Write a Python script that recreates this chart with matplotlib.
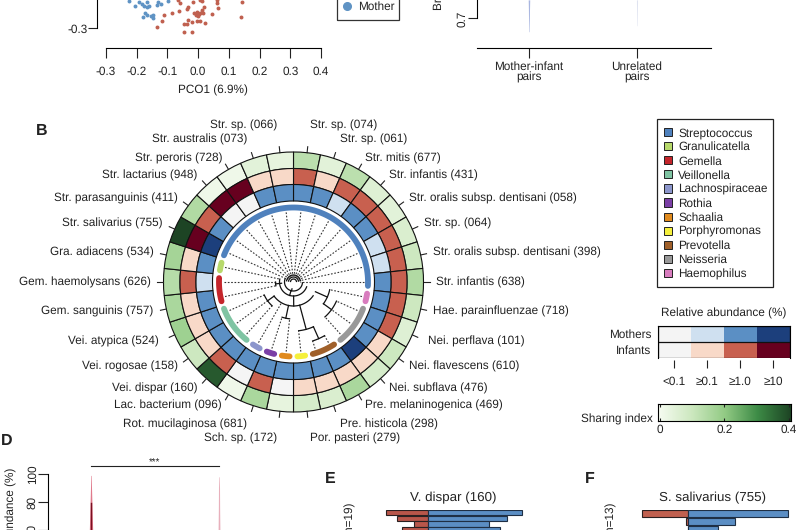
import numpy as np
import matplotlib
matplotlib.use('Agg')
import matplotlib.pyplot as plt
from matplotlib.colors import LinearSegmentedColormap, ListedColormap
from matplotlib.lines import Line2D
from matplotlib.patches import Patch, Rectangle

plt.rcParams['font.family'] = ['Liberation Sans', 'DejaVu Sans']
plt.rcParams['axes.unicode_minus'] = False
plt.rcParams['font.size'] = 8.5
plt.rcParams['text.hinting'] = 'none'
plt.rcParams['axes.linewidth'] = 0.8
plt.rcParams['xtick.major.width'] = 0.8
plt.rcParams['ytick.major.width'] = 0.8
plt.rcParams['text.color'] = '#222222'
plt.rcParams['xtick.color'] = '#222222'
plt.rcParams['ytick.color'] = '#222222'

W, H = 800, 530
DARK = '#222222'
RED = '#c0604f'
BLUE = '#5f93c4'

# panel A, PCoA points (visible part only)
mother_x = [-0.224, -0.206, -0.191, -0.184, -0.176, -0.168, -0.159, -0.173, -0.168, -0.178,
            -0.155, -0.148, -0.148, -0.130, -0.135, -0.122, -0.097, -0.168]
mother_y = [-0.211, -0.228, -0.214, -0.222, -0.228, -0.233, -0.228, -0.250, -0.258, -0.265,
            -0.261, -0.258, -0.269, -0.214, -0.224, -0.222, -0.211, -0.214]
infant_x = [-0.135, -0.119, -0.110, -0.084, -0.061, -0.059, -0.064, -0.032, -0.037, -0.016,
            0.006, -0.013, -0.005, 0.004, 0.012, 0.019, 0.006, 0.001, -0.007, 0.017,
            0.044, 0.060, 0.066, 0.142, 0.140, -0.046, -0.037, -0.032, -0.021, -0.005,
            0.006, 0.022, -0.046, -0.019, 0.012, 0.060]
infant_y = [-0.298, -0.277, -0.258, -0.252, -0.244, -0.220, -0.209, -0.231, -0.239, -0.214,
            -0.209, -0.250, -0.247, -0.254, -0.241, -0.231, -0.250, -0.261, -0.258, -0.252,
            -0.254, -0.220, -0.236, -0.214, -0.265, -0.287, -0.287, -0.274, -0.279, -0.276,
            -0.276, -0.283, -0.312, -0.313, -0.211, -0.209]
pco_ticks = [-0.3, -0.2, -0.1, 0.0, 0.1, 0.2, 0.3, 0.4]

# panel B top, tails of the two violins
bray_y = [0.678, 0.69, 0.70, 0.715, 0.731]
bray_pairs_w = [0.002, 0.003, 0.004, 0.005, 0.007]
bray_unrel_y = [0.688, 0.70, 0.715, 0.731]
bray_unrel_w = [0.002, 0.003, 0.004, 0.005]

# circular plot, clockwise from the top
species = ['Str. sp. (074)', 'Str. sp. (061)', 'Str. mitis (677)', 'Str. infantis (431)',
           'Str. oralis subsp. dentisani (058)', 'Str. sp. (064)',
           'Str. oralis subsp. dentisani (398)', 'Str. infantis (638)',
           'Hae. parainfluenzae (718)', 'Nei. perflava (101)', 'Nei. flavescens (610)',
           'Nei. subflava (476)', 'Pre. melaninogenica (469)', 'Pre. histicola (298)',
           'Por. pasteri (279)', 'Sch. sp. (172)', 'Rot. mucilaginosa (681)',
           'Lac. bacterium (096)', 'Vei. dispar (160)', 'Vei. rogosae (158)',
           'Vei. atypica (524)', 'Gem. sanguinis (757)', 'Gem. haemolysans (626)',
           'Gra. adiacens (534)', 'Str. salivarius (755)', 'Str. parasanguinis (411)',
           'Str. lactarius (948)', 'Str. peroris (728)', 'Str. australis (073)',
           'Str. sp. (066)']
mother_level = [2, 2, 1, 2, 2, 1, 1, 2, 2, 2, 2, 3, 2, 2, 2,
                2, 2, 2, 2, 2, 2, 2, 1, 2, 3, 2, 0, 0, 2, 2]
infant_level = [2, 1, 2, 2, 2, 2, 2, 2, 2, 2, 1, 1, 1, 1, 1,
                0, 2, 0, 2, 1, 1, 1, 2, 1, 3, 2, 3, 3, 1, 1]
sharing = [.13, .05, .13, .06, .05, .07, .10, .15, .10, .06, .10, .08, .16, .07, .08,
           .04, .16, .02, .37, .10, .18, .16, .14, .17, .40, .15, .02, .02, .05, .04]
genera = ['Streptococcus', 'Granulicatella', 'Gemella', 'Veillonella', 'Lachnospiraceae',
          'Rothia', 'Schaalia', 'Porphyromonas', 'Prevotella', 'Neisseria', 'Haemophilus']
genus_colors = ['#4f81bd', '#b7d96b', '#c4252b', '#7fc4a3', '#8c96cc', '#7b3fa6',
                '#e08a1e', '#f5f03c', '#a0602a', '#999999', '#d87cbe']
# first and last sector of each genus on the ring
genus_first = [24, 23, 21, 18, 17, 16, 15, 14, 12, 9, 8]
genus_last = [37, 23, 22, 20, 17, 16, 15, 14, 13, 11, 8]
# radius where each dotted leaf line stops
leaf_r = [6, 6, 6, 6, 6, 6, 6, 6, 37, 47, 47, 47, 62, 62, 49,
          37, 37, 24, 32, 32, 32, 18, 18, 14, 6, 6, 6, 6, 6, 6]
# tree arcs: start angle, end angle, radius, radius of the stem going inward
tree_arcs = [(264, 264, 18, 12), (258, 270, 18, 18), (222, 246, 32, 24), (186, 198, 37, 24),
             (174, 156, 49, 24), (150, 162, 62, 49), (114, 138, 47, 37), (102, 126, 37, 24),
             (125, 234, 24, 14), (110, 282, 14, 9), (95, 290, 9, 7)]
core_arcs_r = [3, 5, 7]

level_blues = ['#f4f4f4', '#cfe0f0', '#5b8fc4', '#1c3f7c']
level_reds = ['#f5f5f5', '#f8d9c8', '#c8604f', '#67001f']
level_labels = ['<0.1', '≥0.1', '≥1.0', '≥10']
greens = LinearSegmentedColormap.from_list('sharing', ['#f7fcf2', '#cde8c0', '#93cb85', '#3d8b46', '#1d4424'])

# panel D, violin outlines
abund_y = [60, 70, 80, 90, 99]
abund_mother_w = [0.013, 0.010, 0.007, 0.004, 0.002]
abund_core_y = [60, 79]
abund_unrel_y = [60, 75, 90, 98]
abund_unrel_w = [0.007, 0.005, 0.004, 0.002]

# panels E and F, paired bars
dispar_left = [-42, -31, -14, -26]
dispar_right = [94, 79, 61, 72]
saliv_left = [-46, -2, 0]
saliv_right = [100, 47, 29.5]


def px_axes(x0, y0, x1, y1, **kw):
    return fig.add_axes([x0 / W, 1 - y1 / H, (x1 - x0) / W, (y1 - y0) / H], **kw)


def label(x, y, s, **kw):
    fig.text(x / W, 1 - y / H, s, **kw)


def box(x0, y0, x1, y1, color):
    fig.add_artist(Rectangle((x0 / W, 1 - y1 / H), (x1 - x0) / W, (y1 - y0) / H, fill=False,
                             ec=color, lw=0.9, transform=fig.transFigure))


fig = plt.figure(figsize=(8, 5.3), dpi=100)

# A
ax = px_axes(106, 0, 321, 48)
ax.scatter(infant_x, infant_y, s=8, color=RED, lw=0, clip_on=False)
ax.scatter(mother_x, mother_y, s=8, color=BLUE, lw=0, clip_on=False)
ax.set_xlim(-0.3, 0.4)
ax.set_ylim(-0.365, -0.2088)
ax.set_xticks(pco_ticks)
ax.set_xticklabels(['%.1f' % t for t in pco_ticks])
ax.set_yticks([-0.3])
ax.set_yticklabels(['-0.3'], rotation=90, va='center')
ax.tick_params(axis='x', length=7.2, pad=6)
ax.tick_params(axis='y', length=6.5, pad=0)
ax.spines['top'].set_visible(False)
ax.spines['right'].set_visible(False)
ax.spines['left'].set_position(('outward', 6.5))
ax.spines['left'].set_bounds(-0.3, -0.2088)
ax.spines['bottom'].set_bounds(-0.3, 0.4)
ax.patch.set_alpha(0)
label(213, 90, 'PCO1 (6.9%)', ha='center', va='center')
handles = [Line2D([], [], marker='o', ls='', ms=5.5, color=RED),
           Line2D([], [], marker='o', ls='', ms=5.5, color=BLUE)]
fig.legend(handles, ['Infant', 'Mother'], loc='lower left',
           bbox_to_anchor=(336.7 / W, 1 - 17 / H), bbox_transform=fig.transFigure,
           borderaxespad=0, frameon=False, handlelength=0.9, handletextpad=0.5,
           borderpad=0.4, labelspacing=0.6)
box(336.7, -30, 399.3, 20, '#333333')

# B top
ax = px_axes(477, 0, 711, 48)
ax.fill_betweenx(bray_y, [1 - w for w in bray_pairs_w], [1 + w for w in bray_pairs_w],
                 color='#a9b6e0', lw=0)
ax.fill_betweenx(bray_unrel_y, [2 - w for w in bray_unrel_w], [2 + w for w in bray_unrel_w],
                 color='#dfe3f0', lw=0)
ax.set_xlim(0.519, 2.685)
ax.set_ylim(0.6508, 0.7308)
ax.set_xticks([1, 2])
ax.set_xticklabels(['Mother-infant\npairs', 'Unrelated\npairs'], linespacing=1.0)
ax.set_yticks([0.7])
ax.set_yticklabels(['0.7'], rotation=90, va='center')
ax.tick_params(axis='x', length=7.2, pad=2)
ax.tick_params(axis='y', length=6.5, pad=0)
ax.spines['top'].set_visible(False)
ax.spines['right'].set_visible(False)
ax.spines['left'].set_bounds(0.7, 0.7308)
ax.patch.set_alpha(0)
label(439, 10, 'Bray-Curtis dissimilarity', rotation=90, ha='center', va='bottom')

# ring
label(36, 131, 'B', fontsize=11.5, fontweight='bold', va='center')
ax = px_axes(293.5 - 130, 282 - 130, 293.5 + 130, 282 + 130, projection='polar')
ax.set_theta_zero_location('N')
ax.set_theta_direction(-1)
ax.set_rlim(0, 130)
ax.axis('off')
centers = np.radians(np.arange(len(species)) * 12 + 6)
wid = np.radians(12)
ax.bar(centers, 16.5, wid, bottom=113.5, color=[greens(s / 0.4) for s in sharing],
       edgecolor='#111111', lw=0.8, clip_on=False)
ax.bar(centers, 16, wid, bottom=97.5, color=[level_reds[k] for k in infant_level],
       edgecolor='#111111', lw=0.8, clip_on=False)
ax.bar(centers, 16.5, wid, bottom=81, color=[level_blues[k] for k in mother_level],
       edgecolor='#111111', lw=0.8, clip_on=False)

for i, name in enumerate(species):
    ax.plot([centers[i], centers[i]], [130, 136], color=DARK, lw=0.8, clip_on=False)
    r = 143
    if i in (0, 29, 14, 15):
        r = 157
    elif i in (1, 28, 13, 16):
        r = 150
    elif i in (9, 20):
        r = 147
    ax.text(centers[i], r, name, ha='left' if i < 15 else 'right', va='center', clip_on=False)
    ax.plot([centers[i], centers[i]], [70, leaf_r[i]], color='#333333', lw=0.8,
            ls=(0, (1.5, 1.5)))

for c, first, last in zip(genus_colors, genus_first, genus_last):
    t = np.radians(np.linspace(first * 12 + 6 - 3, last * 12 + 6 + 3, 80))
    ax.plot(t, np.full(80, 74.5), color=c, lw=4.2, solid_capstyle='round')

for a0, a1, r, stem in tree_arcs:
    t = np.radians(np.linspace(a0, a1, 30))
    ax.plot(t, np.full(30, r), color='#111111', lw=0.9)
    mid = np.radians((a0 + a1) / 2)
    ax.plot([mid, mid], [r, stem], color='#111111', lw=0.9)
for r in core_arcs_r:
    t = np.radians(np.linspace(-80, 80, 30))
    ax.plot(t, np.full(30, r), color='#111111', lw=0.9)

# genus legend
legend_handles = [Patch(facecolor=c, edgecolor='#222222', lw=0.7) for c in genus_colors]
fig.legend(legend_handles, genera, loc='upper left',
           bbox_to_anchor=(657 / W, 1 - 120.5 / H), bbox_transform=fig.transFigure,
           borderaxespad=0, frameon=False, handlelength=0.68, handleheight=0.68,
           handletextpad=0.51, borderpad=0.6, labelspacing=0.245)
box(657, 119, 772.7, 287, '#222222')

# abundance key
ax = px_axes(657.7, 326, 790, 358)
key_cmap = ListedColormap(level_blues + level_reds)
ax.pcolormesh([[0, 1, 2, 3], [4, 5, 6, 7]], cmap=key_cmap, vmin=0, vmax=7)
ax.invert_yaxis()
ax.axhline(1, color='#111111', lw=0.9)
ax.set_xticks([0.5, 1.5, 2.5, 3.5])
ax.set_xticklabels(level_labels)
ax.set_yticks([0.5, 1.5])
ax.set_yticklabels(['Mothers', 'Infants'])
ax.tick_params(axis='y', length=0, pad=4.5)
ax.tick_params(axis='x', length=5.8, pad=6)
ax.spines['bottom'].set_position(('outward', 1.5))
ax.spines['bottom'].set_visible(False)
ax.add_patch(Rectangle((0, 0), 1, 1, transform=ax.transAxes, fill=False, ec='#111111', lw=0.9))
label(724, 313, 'Relative abundance (%)', ha='center', va='center')

# sharing colour bar
ax = px_axes(658, 404, 790.6, 420.7)
ax.imshow(np.linspace(0, 0.4, 256).reshape(1, -1), cmap=greens, aspect='auto',
          extent=[-0.005, 0.405, 0, 1], vmin=0, vmax=0.4)
ax.set_xlim(-0.005, 0.405)
ax.set_xticks([0, 0.2, 0.4])
ax.set_xticklabels(['0', '0.2', '0.4'])
ax.set_yticks([])
ax.tick_params(axis='x', direction='in', length=2.5, pad=2.5, top=True)
label(653, 419, 'Sharing index', ha='right', va='center')

# D
label(1, 441, 'D', fontsize=11.5, fontweight='bold', va='center')
ax = px_axes(48, 474, 260, 530)
ax.fill_betweenx(abund_y, [1 - w for w in abund_mother_w], [1 + w for w in abund_mother_w],
                 color='#e07a8c', lw=0, clip_on=False)
ax.plot([1, 1], abund_core_y, color='#7a1020', lw=1.0)
ax.fill_betweenx(abund_unrel_y, [2 - w for w in abund_unrel_w], [2 + w for w in abund_unrel_w],
                 color='#e8b0bc', lw=0)
ax.plot([1, 2], [105.7, 105.7], color=DARK, lw=0.8, clip_on=False)
ax.text(1.5, 108, '***', ha='center', va='center', fontsize=7, clip_on=False)
ax.set_xlim(1 - 43 / 128, 1 + 212 / 128 - 43 / 128)
ax.set_ylim(60, 100)
ax.set_xticks([])
ax.set_yticks([60, 80, 100])
ax.set_yticklabels(['60', '80', '100'], rotation=90, va='center')
ax.tick_params(axis='y', length=7.2, pad=0)
for side in ['top', 'right', 'bottom']:
    ax.spines[side].set_visible(False)
ax.patch.set_alpha(0)
label(11, 468, 'Relative abundance (%)', rotation=90, ha='center', va='top')

# E
label(325, 479, 'E', fontsize=11.5, fontweight='bold', va='center')
label(453, 498, 'V. dispar (160)', fontsize=9.6, ha='center', va='center')
label(350, 503, 'Mother-infant pairs (n=19)', rotation=90, ha='center', va='top')
ax = px_axes(380, 510, 530, 530)
rows = np.arange(len(dispar_left))
ax.barh(rows, dispar_left, 0.92, color='#b8564a', edgecolor='#2a2020', lw=0.8)
ax.barh(rows, dispar_right, 0.92, color='#5b8ec4', edgecolor='#1f2f44', lw=0.8)
ax.set_xlim(-48.3, 101.7)
ax.set_ylim(3.05, -0.45)
ax.axis('off')

# F
label(585, 479, 'F', fontsize=11.5, fontweight='bold', va='center')
label(713, 498, 'S. salivarius (755)', fontsize=9.6, ha='center', va='center')
label(611, 503, 'Mother-infant pairs (n=13)', rotation=90, ha='center', va='top')
ax = px_axes(640, 510, 792, 530)
rows = np.arange(len(saliv_left))
ax.barh(rows, saliv_left, 0.9, color='#c0604f', edgecolor='#2a2020', lw=0.8)
ax.barh(rows, saliv_right, 0.9, color='#5b8ec4', edgecolor='#1f2f44', lw=0.8)
ax.set_xlim(-48.3, 103.7)
ax.set_ylim(2.06, -0.44)
ax.axis('off')

fig.savefig('out.png', dpi=100)
